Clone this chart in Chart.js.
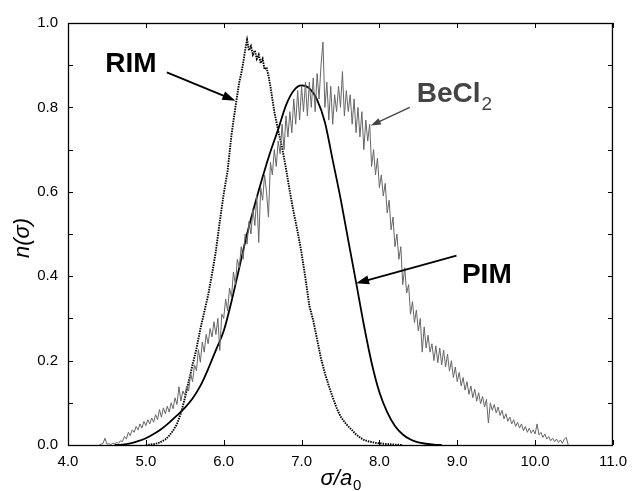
<!DOCTYPE html>
<html>
<head>
<meta charset="utf-8">
<script src="https://cdn.jsdelivr.net/npm/chart.js@4"></script>
<style>
  html, body { margin: 0; padding: 0; background: #fff; }
  #wrap { width: 635px; height: 491px; }
</style>
</head>
<body>
<div id="wrap"><canvas id="chart" width="635" height="491"></canvas></div>
<script>
// BeCl2: histogram, one value every 0.025 from 4.40
const beclStart = 4.40;
const beclStep = 0.025;
const beclValues = [
  0, 0.002, 0.004, 0.016, 0.002, 0.003, 0.001, 0.004, 0.003, 0.006,
  0.004, 0.010, 0.008, 0.020, 0.014, 0.030, 0.022, 0.036, 0.030, 0.044,
  0.036, 0.050, 0.040, 0.056, 0.046, 0.060, 0.050, 0.064, 0.054, 0.072,
  0.060, 0.084, 0.066, 0.088, 0.074, 0.092, 0.078, 0.100, 0.086, 0.112,
  0.096, 0.138, 0.104, 0.128, 0.118, 0.140, 0.128, 0.170, 0.150, 0.190,
  0.176, 0.226, 0.196, 0.244, 0.220, 0.262, 0.240, 0.276, 0.256, 0.292,
  0.262, 0.300, 0.224, 0.310, 0.300, 0.346, 0.318, 0.372, 0.350, 0.410,
  0.380, 0.440, 0.420, 0.470, 0.440, 0.500, 0.476, 0.530, 0.500, 0.560,
  0.520, 0.590, 0.480, 0.610, 0.580, 0.640, 0.600, 0.540, 0.670, 0.640,
  0.700, 0.660, 0.720, 0.690, 0.760, 0.700, 0.780, 0.730, 0.790, 0.740,
  0.820, 0.760, 0.840, 0.770, 0.850, 0.790, 0.860, 0.780, 0.860, 0.800,
  0.870, 0.790, 0.880, 0.820, 0.900, 0.955, 0.800, 0.860, 0.770, 0.850,
  0.760, 0.830, 0.790, 0.850, 0.800, 0.885, 0.780, 0.840, 0.790, 0.830,
  0.760, 0.820, 0.740, 0.800, 0.730, 0.790, 0.700, 0.770, 0.720, 0.760,
  0.660, 0.700, 0.640, 0.680, 0.610, 0.640, 0.590, 0.620, 0.550, 0.580,
  0.510, 0.540, 0.470, 0.500, 0.440, 0.470, 0.380, 0.420, 0.360, 0.380,
  0.310, 0.340, 0.290, 0.320, 0.270, 0.300, 0.220, 0.280, 0.230, 0.260,
  0.220, 0.240, 0.200, 0.235, 0.195, 0.230, 0.190, 0.225, 0.185, 0.215,
  0.175, 0.200, 0.160, 0.185, 0.150, 0.172, 0.140, 0.160, 0.130, 0.150,
  0.120, 0.140, 0.112, 0.132, 0.104, 0.124, 0.098, 0.115, 0.090, 0.108,
  0.052, 0.100, 0.082, 0.096, 0.076, 0.090, 0.070, 0.082, 0.062, 0.074,
  0.056, 0.066, 0.050, 0.060, 0.044, 0.054, 0.040, 0.050, 0.034, 0.044,
  0.030, 0.040, 0.028, 0.036, 0.026, 0.050, 0.024, 0.030, 0.018, 0.026,
  0.014, 0.020, 0.010, 0.016, 0.008, 0.014, 0.006, 0.012, 0.004, 0.014,
  0.018, 0
];

// RIM
const rimX = [
  5.00, 5.05, 5.10, 5.15, 5.20, 5.25, 5.30, 5.35, 5.40, 5.45,
  5.50, 5.55, 5.60, 5.65, 5.70, 5.75, 5.80, 5.85, 5.90, 5.95,
  6.00, 6.05, 6.10, 6.15, 6.20, 6.225, 6.25, 6.275, 6.30, 6.325,
  6.35, 6.375, 6.40, 6.425, 6.45, 6.475, 6.50, 6.525, 6.55, 6.575,
  6.60, 6.65, 6.70, 6.75, 6.80, 6.85, 6.90, 6.95, 7.00, 7.05,
  7.10, 7.15, 7.20, 7.25, 7.30, 7.35, 7.40, 7.45, 7.50, 7.55,
  7.60, 7.65, 7.70, 7.75, 7.80, 7.85, 7.90, 7.95, 8.00, 8.10,
  8.20, 8.30
];
const rimY = [
  0, 0.001, 0.002, 0.004, 0.008, 0.013, 0.022, 0.034, 0.050, 0.075,
  0.110, 0.150, 0.190, 0.228, 0.275, 0.315, 0.355, 0.405, 0.460, 0.530,
  0.595, 0.650, 0.735, 0.800, 0.860, 0.880, 0.905, 0.935, 0.960, 0.935,
  0.945, 0.925, 0.935, 0.915, 0.925, 0.905, 0.915, 0.890, 0.895, 0.875,
  0.850, 0.790, 0.745, 0.705, 0.655, 0.600, 0.550, 0.505, 0.455, 0.395,
  0.330, 0.295, 0.250, 0.205, 0.170, 0.140, 0.113, 0.088, 0.068, 0.055,
  0.044, 0.035, 0.025, 0.018, 0.012, 0.009, 0.007, 0.005, 0.004, 0.002,
  0.001, 0
];

// PIM
const pimX = [
  4.6, 4.7, 4.8, 4.9, 5.0, 5.1, 5.2, 5.3, 5.4, 5.5,
  5.6, 5.7, 5.8, 5.9, 6.0, 6.1, 6.2, 6.3, 6.4, 6.5,
  6.6, 6.7, 6.8, 6.9, 7.0, 7.1, 7.2, 7.3, 7.4, 7.5,
  7.6, 7.7, 7.8, 7.9, 8.0, 8.1, 8.2, 8.3, 8.4, 8.5,
  8.6, 8.7, 8.8
];
const pimY = [
  0, 0.001, 0.004, 0.009, 0.016, 0.026, 0.038, 0.053, 0.070, 0.088,
  0.110, 0.140, 0.180, 0.225, 0.270, 0.340, 0.420, 0.500, 0.570, 0.635,
  0.695, 0.748, 0.805, 0.840, 0.852, 0.845, 0.818, 0.765, 0.675, 0.585,
  0.485, 0.386, 0.285, 0.195, 0.125, 0.078, 0.045, 0.025, 0.013, 0.006,
  0.003, 0.001, 0
];

const xTicks = [4, 5, 6, 7, 8, 9, 10, 11];

// labels and arrows, in data units
const labels = [
  { text: 'RIM', x: 4.48, y: 0.883, tail: [5.27, 0.883], tip: [6.15, 0.816], color: '#000', bold: true },
  { text: 'PIM', x: 9.06, y: 0.385, tail: [8.99, 0.449], tip: [7.70, 0.383], color: '#000', bold: true },
  { text: 'BeCl', sub: '2', x: 8.48, y: 0.812, tail: [8.39, 0.800], tip: [7.89, 0.757], color: '#444', bold: false }
];

const FONT = '"Liberation Sans", Arial, Helvetica, sans-serif';

const beclData = beclValues.map((v, i) => ({ x: beclStart + i * beclStep, y: v }));
const rimData = rimX.map((x, i) => ({ x: x, y: rimY[i] }));
const pimData = pimX.map((x, i) => ({ x: x, y: pimY[i] }));

// frame, inward ticks, annotations and axis titles
const decorations = {
  id: 'decorations',
  afterDraw(chart) {
    const ctx = chart.ctx;
    const a = chart.chartArea;
    const xs = chart.scales.x;
    const ys = chart.scales.y;
    ctx.save();
    ctx.strokeStyle = '#000';
    ctx.lineWidth = 1.3;
    ctx.strokeRect(a.left + 0.5, a.top + 0.5, a.right - a.left - 1, a.bottom - a.top);

    ctx.lineWidth = 1;
    ctx.beginPath();
    xTicks.forEach(t => {
      const px = Math.round(xs.getPixelForValue(t)) + 0.5;
      ctx.moveTo(px, a.bottom); ctx.lineTo(px, a.bottom - 5);
      ctx.moveTo(px, a.top); ctx.lineTo(px, a.top + 5);
    });
    ys.ticks.forEach(t => {
      const py = Math.round(ys.getPixelForValue(t.value)) + 0.5;
      ctx.moveTo(a.left, py); ctx.lineTo(a.left + 5, py);
      ctx.moveTo(a.right, py); ctx.lineTo(a.right - 5, py);
    });
    ctx.stroke();

    labels.forEach(l => {
      const tx = xs.getPixelForValue(l.tail[0]);
      const ty = ys.getPixelForValue(l.tail[1]);
      const hx = xs.getPixelForValue(l.tip[0]);
      const hy = ys.getPixelForValue(l.tip[1]);
      const ang = Math.atan2(hy - ty, hx - tx);
      const head = l.bold ? 13 : 10;
      const half = l.bold ? 4.5 : 3.5;
      ctx.strokeStyle = l.color;
      ctx.fillStyle = l.color;
      ctx.lineWidth = l.bold ? 1.8 : 1.3;
      ctx.beginPath();
      ctx.moveTo(tx, ty);
      ctx.lineTo(hx - Math.cos(ang) * head * 0.8, hy - Math.sin(ang) * head * 0.8);
      ctx.stroke();
      ctx.beginPath();
      ctx.moveTo(hx, hy);
      ctx.lineTo(hx - Math.cos(ang) * head - Math.sin(ang) * half, hy - Math.sin(ang) * head + Math.cos(ang) * half);
      ctx.lineTo(hx - Math.cos(ang) * head + Math.sin(ang) * half, hy - Math.sin(ang) * head - Math.cos(ang) * half);
      ctx.closePath();
      ctx.fill();

      const lx = xs.getPixelForValue(l.x);
      const ly = ys.getPixelForValue(l.y);
      ctx.textBaseline = 'alphabetic';
      ctx.textAlign = 'left';
      ctx.font = (l.bold ? 'bold 28px ' : 'bold 28px ') + FONT;
      ctx.fillText(l.text, lx, ly);
      if (l.sub) {
        const w = ctx.measureText(l.text).width;
        ctx.font = '19px ' + FONT;
        ctx.fillText(l.sub, lx + w + 1, ly + 8);
      }
    });

    // axis titles
    ctx.fillStyle = '#000';
    ctx.font = 'italic 22px ' + FONT;
    const xt = 'σ/a';
    const xw = ctx.measureText(xt).width;
    ctx.font = '15px ' + FONT;
    const sw = ctx.measureText('0').width;
    const cx = (a.left + a.right) / 2 - (xw + sw) / 2;
    ctx.font = 'italic 22px ' + FONT;
    ctx.fillText(xt, cx, 485);
    ctx.font = '15px ' + FONT;
    ctx.fillText('0', cx + xw + 1, 490);

    ctx.translate(29, (a.top + a.bottom) / 2 + 4);
    ctx.rotate(-Math.PI / 2);
    ctx.font = 'italic 22px ' + FONT;
    ctx.textAlign = 'center';
    ctx.fillText('n(σ)', 0, 0);
    ctx.restore();
  }
};

new Chart(document.getElementById('chart'), {
  type: 'scatter',
  data: {
    datasets: [
      {
        label: 'BeCl2',
        data: beclData,
        showLine: true,
        borderColor: '#666',
        borderWidth: 1,
        pointRadius: 0
      },
      {
        label: 'PIM',
        data: pimData,
        showLine: true,
        borderColor: '#000',
        borderWidth: 1.8,
        pointRadius: 0,
        cubicInterpolationMode: 'monotone'
      },
      {
        label: 'RIM',
        data: rimData,
        showLine: true,
        borderColor: '#000',
        borderWidth: 1.9,
        borderDash: [1.5, 1],
        pointRadius: 0
      }
    ]
  },
  options: {
    responsive: false,
    animation: false,
    layout: { padding: { top: 23, right: 14, left: 0, bottom: 0 } },
    plugins: {
      legend: { display: false },
      tooltip: { enabled: false }
    },
    scales: {
      x: {
        type: 'linear',
        min: 4,
        max: 11,
        afterBuildTicks: s => { s.ticks = xTicks.map(v => ({ value: v })); },
        afterFit: s => { s.height = 46; },
        grid: { display: false, drawTicks: false },
        border: { display: false },
        ticks: {
          color: '#000',
          font: { family: FONT, size: 15 },
          padding: 8,
          maxRotation: 0,
          callback: v => v.toFixed(1)
        }
      },
      y: {
        min: 0,
        max: 1,
        afterFit: s => { s.width = 68; },
        grid: { display: false, drawTicks: false },
        border: { display: false },
        ticks: {
          stepSize: 0.1,
          color: '#000',
          font: { family: FONT, size: 15 },
          padding: 10,
          callback: v => (Math.round(v * 10) % 2 === 0 ? v.toFixed(1) : '')
        }
      }
    }
  },
  plugins: [decorations]
});
</script>
</body>
</html>
